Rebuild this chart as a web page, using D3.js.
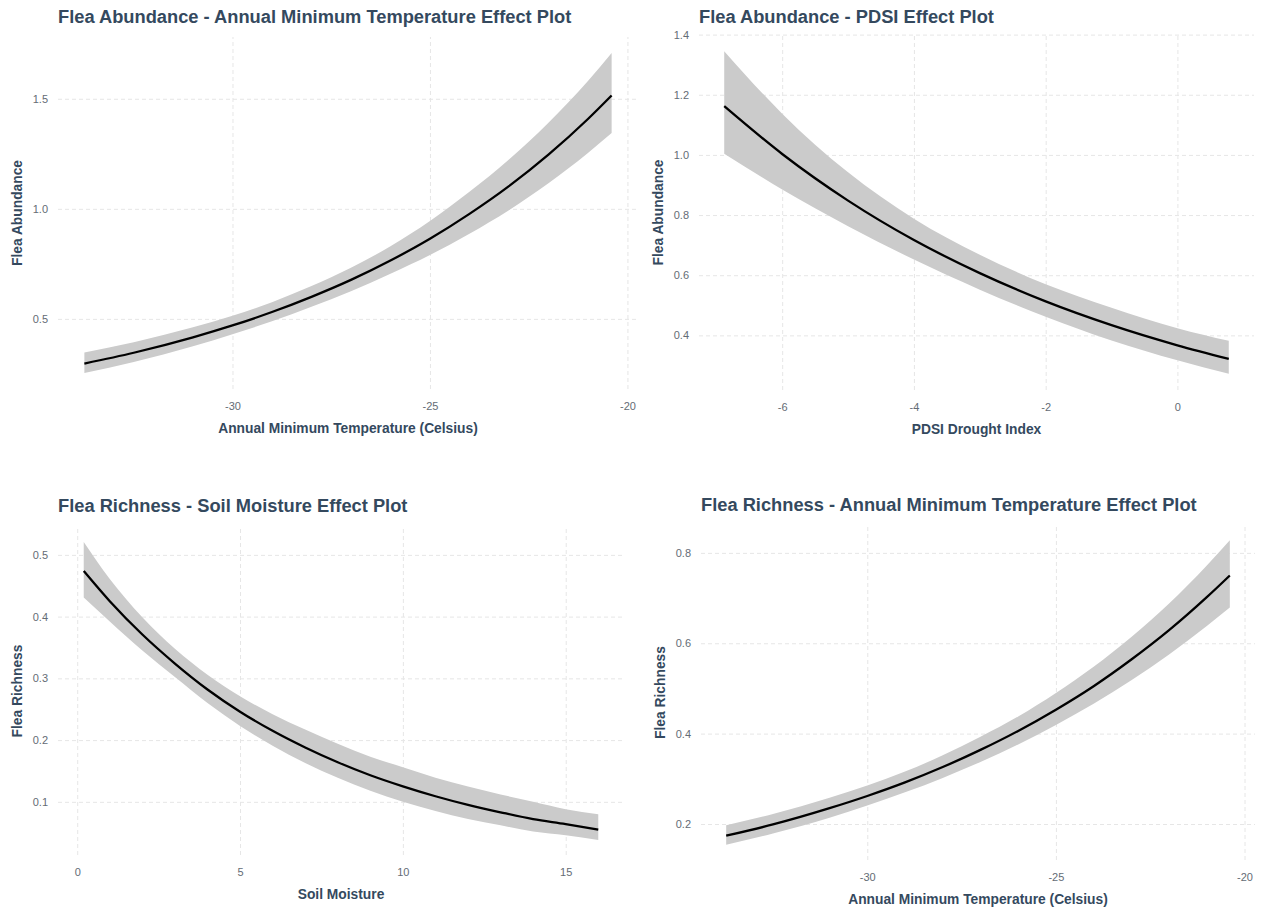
<!DOCTYPE html>
<html>
<head>
<meta charset="utf-8">
<script src="https://cdn.jsdelivr.net/npm/d3@7"></script>
<style>
  html, body { margin: 0; padding: 0; background: #ffffff; }
  svg { display: block; font-family: "Liberation Sans", Arial, sans-serif; }
  .grid line { stroke: #e6e6e6; stroke-width: 1; stroke-dasharray: 4,3; }
  .grid path { display: none; }
  .axis path { display: none; }
  .axis text { fill: #646c75; font-size: 11px; }
  .ptitle { fill: #34495e; font-weight: bold; font-size: 18.3px; }
  .atitle { fill: #34495e; font-weight: bold; font-size: 13.8px; }
</style>
</head>
<body>
<svg id="chart" width="1263" height="907"></svg>
<script>
// Flea abundance vs annual minimum temperature (fit and 95% band)
const abTempX  = [-33.75, -32.5, -31, -30, -29, -28, -27, -26, -25, -24, -23, -22, -21, -20.4];
const abTempFit = [0.297, 0.346, 0.416, 0.470, 0.531, 0.600, 0.677, 0.765, 0.864, 0.977, 1.103, 1.246, 1.408, 1.515];
const abTempLo  = [0.254, 0.304, 0.375, 0.430, 0.489, 0.555, 0.626, 0.705, 0.790, 0.887, 0.994, 1.116, 1.254, 1.344];
const abTempHi  = [0.347, 0.394, 0.462, 0.514, 0.576, 0.649, 0.732, 0.830, 0.945, 1.077, 1.224, 1.391, 1.581, 1.708];
const abTempXTicks = [-30, -25, -20];
const abTempYTicks = [0.5, 1.0, 1.5];

// Flea abundance vs PDSI drought index
const pdsiX   = [-6.88, -6, -5, -4, -3, -2, -1, 0, 0.78];
const pdsiFit = [1.162, 1.003, 0.848, 0.717, 0.607, 0.513, 0.434, 0.367, 0.322];
const pdsiLo  = [1.004, 0.885, 0.763, 0.652, 0.552, 0.462, 0.383, 0.317, 0.272];
const pdsiHi  = [1.345, 1.137, 0.942, 0.788, 0.668, 0.570, 0.492, 0.424, 0.382];
const pdsiXTicks = [-6, -4, -2, 0];
const pdsiYTicks = [0.4, 0.6, 0.8, 1.0, 1.2, 1.4];

// Flea richness vs soil moisture
const soilX   = [0.2, 1, 2, 3, 4, 5, 6, 7, 8, 9, 10, 11, 12, 13, 14, 15, 16];
const soilFit = [0.474, 0.425, 0.371, 0.324, 0.282, 0.246, 0.215, 0.188, 0.164, 0.143, 0.125, 0.109, 0.095, 0.083, 0.072, 0.064, 0.055];
const soilLo  = [0.431, 0.392, 0.345, 0.302, 0.260, 0.223, 0.191, 0.163, 0.139, 0.118, 0.100, 0.085, 0.072, 0.062, 0.052, 0.046, 0.038];
const soilHi  = [0.521, 0.461, 0.399, 0.348, 0.306, 0.271, 0.242, 0.217, 0.194, 0.173, 0.156, 0.139, 0.125, 0.112, 0.100, 0.088, 0.080];
const soilXTicks = [0, 5, 10, 15];
const soilYTicks = [0.1, 0.2, 0.3, 0.4, 0.5];

// Flea richness vs annual minimum temperature
const riTempX   = [-33.74, -32.5, -31, -30, -29, -28, -27, -26, -25, -24, -23, -22, -21, -20.39];
const riTempFit = [0.174, 0.199, 0.235, 0.262, 0.292, 0.326, 0.364, 0.406, 0.453, 0.505, 0.564, 0.629, 0.702, 0.750];
const riTempLo  = [0.154, 0.179, 0.214, 0.241, 0.270, 0.302, 0.337, 0.376, 0.419, 0.466, 0.518, 0.575, 0.638, 0.679];
const riTempHi  = [0.197, 0.222, 0.258, 0.285, 0.316, 0.352, 0.393, 0.438, 0.490, 0.548, 0.614, 0.688, 0.772, 0.828];
const riTempXTicks = [-30, -25, -20];
const riTempYTicks = [0.2, 0.4, 0.6, 0.8];

const panels = [
  { title: "Flea Abundance - Annual Minimum Temperature Effect Plot",
    xLabel: "Annual Minimum Temperature (Celsius)", yLabel: "Flea Abundance",
    x: abTempX, fit: abTempFit, lo: abTempLo, hi: abTempHi,
    xTicks: abTempXTicks, yTicks: abTempYTicks,
    box: { left: 58, top: 37, right: 638, bottom: 389 }, titleY: 23 },
  { title: "Flea Abundance - PDSI Effect Plot",
    xLabel: "PDSI Drought Index", yLabel: "Flea Abundance",
    x: pdsiX, fit: pdsiFit, lo: pdsiLo, hi: pdsiHi,
    xTicks: pdsiXTicks, yTicks: pdsiYTicks,
    box: { left: 699, top: 35, right: 1254, bottom: 390 }, titleY: 23 },
  { title: "Flea Richness - Soil Moisture Effect Plot",
    xLabel: "Soil Moisture", yLabel: "Flea Richness",
    x: soilX, fit: soilFit, lo: soilLo, hi: soilHi,
    xTicks: soilXTicks, yTicks: soilYTicks,
    box: { left: 58, top: 527, right: 624, bottom: 855 }, titleY: 512 },
  { title: "Flea Richness - Annual Minimum Temperature Effect Plot",
    xLabel: "Annual Minimum Temperature (Celsius)", yLabel: "Flea Richness",
    x: riTempX, fit: riTempFit, lo: riTempLo, hi: riTempHi,
    xTicks: riTempXTicks, yTicks: riTempYTicks,
    box: { left: 701, top: 525, right: 1255, bottom: 860 }, titleY: 511 }
];

const svg = d3.select("#chart");
svg.append("rect").attr("width", 1263).attr("height", 907).attr("fill", "#ffffff");

// ggplot-style 5% padding around the data range
function padded(lo, hi) {
  const p = (hi - lo) * 0.05;
  return [lo - p, hi + p];
}

panels.forEach(p => {
  const b = p.box;
  const w = b.right - b.left, h = b.bottom - b.top;
  const g = svg.append("g");

  const xs = d3.scaleLinear().domain(padded(d3.min(p.x), d3.max(p.x))).range([b.left, b.right]);
  const ys = d3.scaleLinear().domain(padded(d3.min(p.lo), d3.max(p.hi))).range([b.bottom, b.top]);

  // dashed major gridlines
  g.append("g").attr("class", "grid")
    .attr("transform", `translate(0,${b.bottom})`)
    .call(d3.axisBottom(xs).tickValues(p.xTicks).tickSize(-h).tickFormat(""));
  g.append("g").attr("class", "grid")
    .attr("transform", `translate(${b.left},0)`)
    .call(d3.axisLeft(ys).tickValues(p.yTicks).tickSize(-w).tickFormat(""));

  // confidence band and fitted curve
  const rows = p.x.map((v, i) => ({ x: v, fit: p.fit[i], lo: p.lo[i], hi: p.hi[i] }));
  g.append("path").datum(rows)
    .attr("fill", "#cbcbcb")
    .attr("d", d3.area().curve(d3.curveMonotoneX)
      .x(d => xs(d.x)).y0(d => ys(d.lo)).y1(d => ys(d.hi)));
  g.append("path").datum(rows)
    .attr("fill", "none").attr("stroke", "#000000").attr("stroke-width", 2.3)
    .attr("d", d3.line().curve(d3.curveMonotoneX)
      .x(d => xs(d.x)).y(d => ys(d.fit)));

  // tick labels
  g.append("g").attr("class", "axis")
    .attr("transform", `translate(0,${b.bottom})`)
    .call(d3.axisBottom(xs).tickValues(p.xTicks).tickSize(0).tickPadding(13).tickFormat(d => String(d)));
  g.append("g").attr("class", "axis")
    .attr("transform", `translate(${b.left},0)`)
    .call(d3.axisLeft(ys).tickValues(p.yTicks).tickSize(0).tickPadding(10).tickFormat(d => d.toFixed(1)));

  // titles
  g.append("text").attr("class", "ptitle")
    .attr("x", b.left).attr("y", p.titleY).text(p.title);
  g.append("text").attr("class", "atitle")
    .attr("x", (b.left + b.right) / 2).attr("y", b.bottom + 44)
    .attr("text-anchor", "middle").text(p.xLabel);
  g.append("text").attr("class", "atitle")
    .attr("transform", `translate(${b.left - 36},${(b.top + b.bottom) / 2}) rotate(-90)`)
    .attr("text-anchor", "middle").text(p.yLabel);
});
</script>
</body>
</html>
